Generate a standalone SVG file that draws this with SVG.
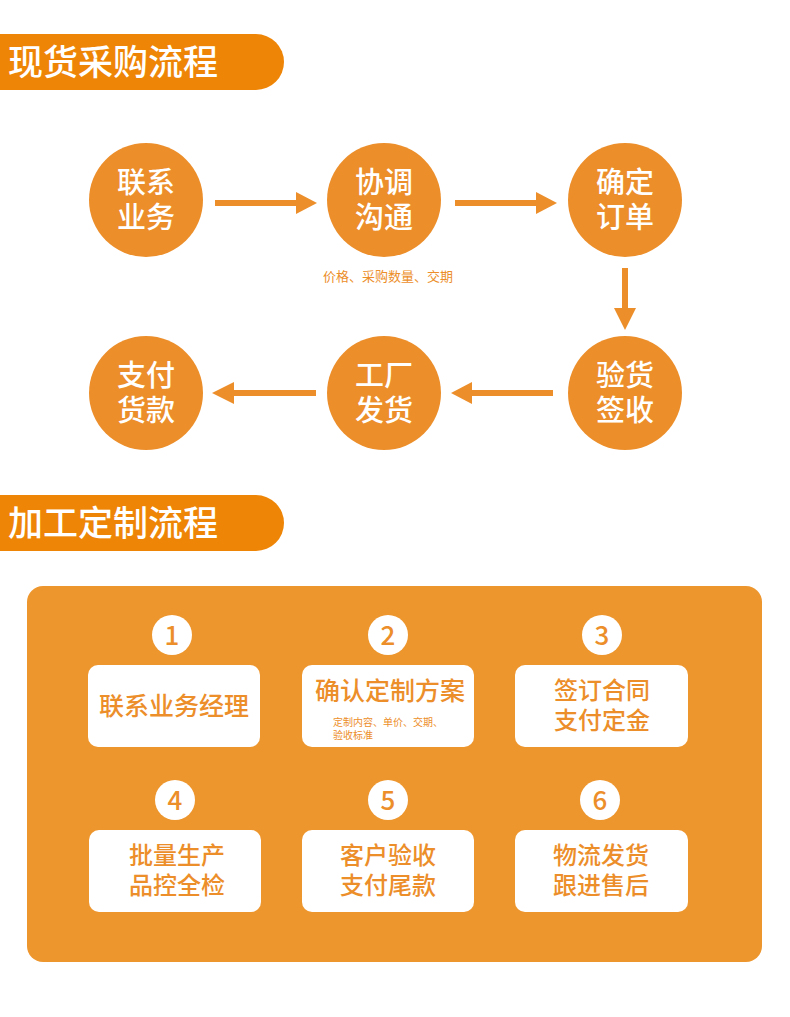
<svg xmlns="http://www.w3.org/2000/svg" width="790" height="1017" viewBox="0 0 790 1017">
<defs>
<style>
text{font-family:"Noto Sans CJK SC","Noto Sans",sans-serif;}
.hd{fill:#ef8506}
.hdt{fill:#fff;font-size:35px;font-weight:500}
.c{fill:#ec8e2a}
.ct{fill:#fff;font-size:29px;font-weight:500;text-anchor:middle}
.ar{stroke:#ec8e2a;stroke-width:6;fill:none}
.ah{fill:#ec8e2a}
.box{fill:#fff}
.bt{fill:#ec8e2a;font-size:24px;font-weight:500;text-anchor:middle}
.bt1{fill:#ec8e2a;font-size:25px;font-weight:500;text-anchor:middle}
.num{fill:#fff}
.nt{fill:#ec8e2a;font-size:26px;font-weight:500;text-anchor:middle}
.sm{fill:#ec8e2a;font-size:13px}
.xs{fill:#ec8e2a;font-size:10px}
</style>
</defs>
<rect width="790" height="1017" fill="#fff"/>
<g id="header1"><path class="hd" d="M0 34H256A28 28 0 0 1 256 90H0Z"/><text class="hdt" x="8" y="75">现货采购流程</text></g>
<g id="n1"><circle class="c" cx="146" cy="200" r="57"/><text class="ct" x="146" y="193">联系</text><text class="ct" x="146" y="228">业务</text></g>
<g id="n2"><circle class="c" cx="384" cy="200" r="57"/><text class="ct" x="384" y="193">协调</text><text class="ct" x="384" y="228">沟通</text><text class="sm" x="388" y="281" text-anchor="middle">价格、采购数量、交期</text></g>
<g id="n3"><circle class="c" cx="625" cy="200" r="57"/><text class="ct" x="625" y="193">确定</text><text class="ct" x="625" y="228">订单</text></g>
<g id="n4"><circle class="c" cx="625" cy="393" r="57"/><text class="ct" x="625" y="386">验货</text><text class="ct" x="625" y="421">签收</text></g>
<g id="n5"><circle class="c" cx="384" cy="393" r="57"/><text class="ct" x="384" y="386">工厂</text><text class="ct" x="384" y="421">发货</text></g>
<g id="n6"><circle class="c" cx="146" cy="393" r="57"/><text class="ct" x="146" y="386">支付</text><text class="ct" x="146" y="421">货款</text></g>
<g id="connectors">
<line class="ar" x1="215" y1="203" x2="298" y2="203"/><path class="ah" d="M317 203L296 192V214Z"/>
<line class="ar" x1="455" y1="203" x2="538" y2="203"/><path class="ah" d="M557 203L536 192V214Z"/>
<line class="ar" x1="625" y1="268" x2="625" y2="310"/><path class="ah" d="M625 330L614 308H636Z"/>
<line class="ar" x1="553" y1="393" x2="470" y2="393"/><path class="ah" d="M451 393L472 382V404Z"/>
<line class="ar" x1="316" y1="393" x2="232" y2="393"/><path class="ah" d="M212 393L234 382V404Z"/>
<line x1="260" y1="681" x2="302" y2="681" stroke="#c9b9a8" stroke-width="1.5"/>
</g>
<g id="header2"><path class="hd" d="M0 495H256A28 28 0 0 1 256 551H0Z"/><text class="hdt" x="8" y="536">加工定制流程</text></g>
<rect x="27" y="586" width="735" height="376" rx="16" fill="#ee962e"/>
<g id="s1"><circle class="num" cx="172" cy="635" r="20"/><text class="nt" x="172" y="645">1</text><rect class="box" x="88" y="665" width="172" height="82" rx="10"/><text class="bt1" x="174" y="715">联系业务经理</text></g>
<g id="s2"><circle class="num" cx="388" cy="635" r="20"/><text class="nt" x="388" y="645">2</text><rect class="box" x="302" y="665" width="172" height="82" rx="10"/><text class="bt1" x="390" y="700">确认定制方案</text><text class="xs" x="333" y="726">定制内容、单价、交期、</text><text class="xs" x="333" y="739">验收标准</text></g>
<g id="s3"><circle class="num" cx="602" cy="635" r="20"/><text class="nt" x="602" y="645">3</text><rect class="box" x="515" y="665" width="173" height="82" rx="10"/><text class="bt" x="602" y="699">签订合同</text><text class="bt" x="602" y="729">支付定金</text></g>
<g id="s4"><circle class="num" cx="175" cy="800" r="20"/><text class="nt" x="175" y="810">4</text><rect class="box" x="89" y="830" width="172" height="82" rx="10"/><text class="bt" x="177" y="864">批量生产</text><text class="bt" x="177" y="894">品控全检</text></g>
<g id="s5"><circle class="num" cx="388" cy="800" r="20"/><text class="nt" x="388" y="810">5</text><rect class="box" x="302" y="830" width="172" height="82" rx="10"/><text class="bt" x="388" y="864">客户验收</text><text class="bt" x="388" y="894">支付尾款</text></g>
<g id="s6"><circle class="num" cx="600" cy="800" r="20"/><text class="nt" x="600" y="810">6</text><rect class="box" x="515" y="830" width="173" height="82" rx="10"/><text class="bt" x="601" y="864">物流发货</text><text class="bt" x="601" y="894">跟进售后</text></g>
</svg>
